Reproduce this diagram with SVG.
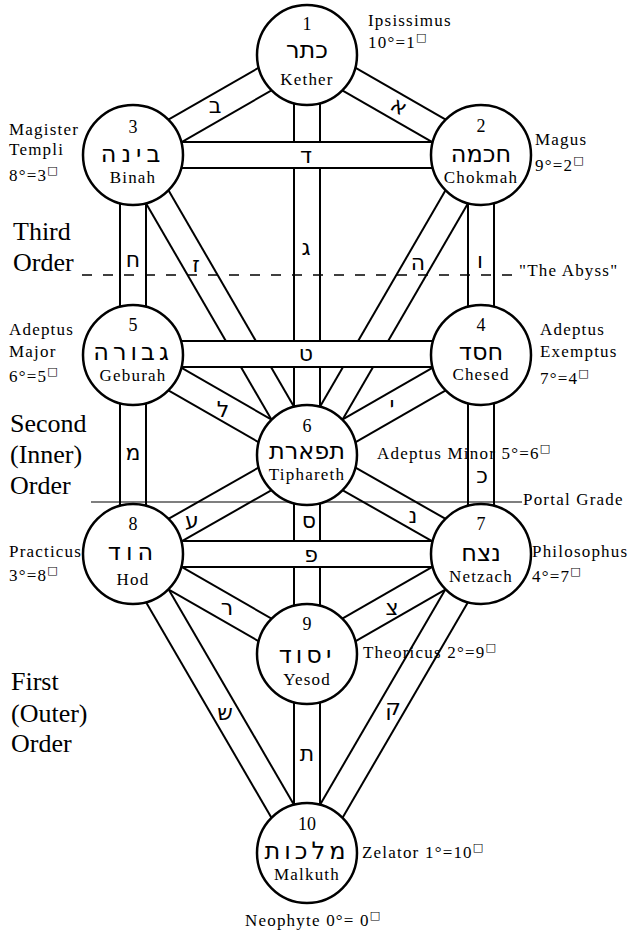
<svg xmlns="http://www.w3.org/2000/svg" width="630" height="933" viewBox="0 0 630 933">
<style>
text { font-family: "Liberation Serif", "Times New Roman", serif; fill: #000; }
.lbl { font-size: 17px; letter-spacing: 1.2px; }
.num { font-size: 18px; text-anchor: middle; }
.name { font-size: 17px; letter-spacing: 1.2px; text-anchor: middle; }
.heb { font-family: "DejaVu Sans", "Noto Sans", sans-serif; font-size: 24px; text-anchor: middle; }
.pl { font-family: "DejaVu Sans", "Noto Sans", sans-serif; font-size: 22px; text-anchor: middle; dominant-baseline: central; }
.ord { font-size: 26px; }
.sq { font-family: "DejaVu Sans", sans-serif; font-size: 11px; letter-spacing: 0; }
.node circle { fill: #fff; stroke: #000; stroke-width: 2.5; }
.bo { stroke: #000; stroke-width: 28; }
.bi { stroke: #fff; stroke-width: 24; }
.abyss { stroke: #000; stroke-width: 1.5; stroke-dasharray: 10 11; }
.portal { stroke: #000; stroke-width: 1.2; }
</style>
<rect width="630" height="933" fill="#fff"/>

<g id="connectors">
  <g id="p-aleph"><line class="bo" x1="307" y1="55" x2="481" y2="155"/><line class="bi" x1="307" y1="55" x2="481" y2="155"/><text class="pl" x="399" y="106" transform="rotate(30 399 106)">א</text></g>
  <g id="p-beth"><line class="bo" x1="307" y1="55" x2="133" y2="155"/><line class="bi" x1="307" y1="55" x2="133" y2="155"/><text class="pl" x="215" y="105">ב</text></g>
  <g id="p-he"><line class="bo" x1="481" y1="155" x2="307" y2="455"/><line class="bi" x1="481" y1="155" x2="307" y2="455"/><text class="pl" x="418" y="262">ה</text></g>
  <g id="p-zain"><line class="bo" x1="133" y1="155" x2="307" y2="455"/><line class="bi" x1="133" y1="155" x2="307" y2="455"/><text class="pl" x="196" y="264">ז</text></g>
  <g id="p-yod"><line class="bo" x1="481" y1="355" x2="307" y2="455"/><line class="bi" x1="481" y1="355" x2="307" y2="455"/><text class="pl" x="392" y="404">י</text></g>
  <g id="p-lamed"><line class="bo" x1="133" y1="355" x2="307" y2="455"/><line class="bi" x1="133" y1="355" x2="307" y2="455"/><text class="pl" x="223" y="409">ל</text></g>
  <g id="p-nun"><line class="bo" x1="307" y1="455" x2="481" y2="554"/><line class="bi" x1="307" y1="455" x2="481" y2="554"/><text class="pl" x="413" y="515">נ</text></g>
  <g id="p-ayin"><line class="bo" x1="307" y1="455" x2="133" y2="554"/><line class="bi" x1="307" y1="455" x2="133" y2="554"/><text class="pl" x="192" y="520">ע</text></g>
  <g id="p-tzaddi"><line class="bo" x1="481" y1="554" x2="307" y2="654"/><line class="bi" x1="481" y1="554" x2="307" y2="654"/><text class="pl" x="392" y="607">צ</text></g>
  <g id="p-resh"><line class="bo" x1="133" y1="554" x2="307" y2="654"/><line class="bi" x1="133" y1="554" x2="307" y2="654"/><text class="pl" x="227" y="607">ר</text></g>
  <g id="p-shin"><line class="bo" x1="133" y1="554" x2="307" y2="853"/><line class="bi" x1="133" y1="554" x2="307" y2="853"/><text class="pl" x="225" y="712">ש</text></g>
  <g id="p-qoph"><line class="bo" x1="481" y1="554" x2="307" y2="853"/><line class="bi" x1="481" y1="554" x2="307" y2="853"/><text class="pl" x="393" y="707">ק</text></g>
  <g id="p-gimel"><line class="bo" x1="307" y1="55" x2="307" y2="455"/><line class="bi" x1="307" y1="55" x2="307" y2="455"/><text class="pl" x="306" y="247">ג</text></g>
  <g id="p-vau"><line class="bo" x1="481" y1="155" x2="481" y2="355"/><line class="bi" x1="481" y1="155" x2="481" y2="355"/><text class="pl" x="480" y="260">ו</text></g>
  <g id="p-cheth"><line class="bo" x1="133" y1="155" x2="133" y2="355"/><line class="bi" x1="133" y1="155" x2="133" y2="355"/><text class="pl" x="133" y="259">ח</text></g>
  <g id="p-kaph"><line class="bo" x1="481" y1="355" x2="481" y2="554"/><line class="bi" x1="481" y1="355" x2="481" y2="554"/><text class="pl" x="482" y="475">כ</text></g>
  <g id="p-mem"><line class="bo" x1="133" y1="355" x2="133" y2="554"/><line class="bi" x1="133" y1="355" x2="133" y2="554"/><text class="pl" x="133" y="452">מ</text></g>
  <g id="p-samekh"><line class="bo" x1="307" y1="455" x2="307" y2="654"/><line class="bi" x1="307" y1="455" x2="307" y2="654"/><text class="pl" x="309" y="520">ס</text></g>
  <g id="p-tau"><line class="bo" x1="307" y1="654" x2="307" y2="853"/><line class="bi" x1="307" y1="654" x2="307" y2="853"/><text class="pl" x="307" y="753">ת</text></g>
  <g id="p-daleth"><line class="bo" x1="133" y1="155" x2="481" y2="155"/><line class="bi" x1="133" y1="155" x2="481" y2="155"/><text class="pl" x="306" y="155">ד</text></g>
  <g id="p-teth"><line class="bo" x1="133" y1="354" x2="481" y2="354"/><line class="bi" x1="133" y1="354" x2="481" y2="354"/><text class="pl" x="306" y="353">ט</text></g>
  <g id="p-pe"><line class="bo" x1="133" y1="554" x2="481" y2="554"/><line class="bi" x1="133" y1="554" x2="481" y2="554"/><text class="pl" x="311" y="554">פ</text></g>
</g>

<g id="grade-lines">
  <line class="abyss" x1="82" y1="275" x2="520" y2="275"/>
  <line class="portal" x1="91" y1="502" x2="522" y2="502"/>
  <text class="lbl" x="519" y="276">"The Abyss"</text>
  <text class="lbl" x="523" y="505">Portal Grade</text>
</g>

<g id="kether" class="node">
  <circle cx="307" cy="55" r="50"/>
  <text class="num" x="307" y="30">1</text>
  <text class="heb" x="307" y="58">כתר</text>
  <text class="name" x="307" y="85">Kether</text>
  <text class="lbl" x="368" y="26">Ipsissimus</text>
  <text class="lbl" x="368" y="48">10°=1<tspan class="sq" dy="-7">□</tspan></text>
</g>
<g id="chokmah" class="node">
  <circle cx="481" cy="155" r="50"/>
  <text class="num" x="481" y="132">2</text>
  <text class="heb" x="481" y="162">חכמה</text>
  <text class="name" x="481" y="183">Chokmah</text>
  <text class="lbl" x="535" y="145">Magus</text>
  <text class="lbl" x="535" y="171">9°=2<tspan class="sq" dy="-7">□</tspan></text>
</g>
<g id="binah" class="node">
  <circle cx="133" cy="155" r="50"/>
  <text class="num" x="133" y="133">3</text>
  <text class="heb" x="133" y="162" style="letter-spacing:5px">בינה</text>
  <text class="name" x="133" y="183">Binah</text>
  <text class="lbl" x="9" y="135">Magister</text>
  <text class="lbl" x="9" y="155">Templi</text>
  <text class="lbl" x="9" y="181">8°=3<tspan class="sq" dy="-7">□</tspan></text>
</g>
<g id="chesed" class="node">
  <circle cx="481" cy="355" r="50"/>
  <text class="num" x="481" y="331">4</text>
  <text class="heb" x="481" y="360">חסד</text>
  <text class="name" x="481" y="380">Chesed</text>
  <text class="lbl" x="540" y="335">Adeptus</text>
  <text class="lbl" x="540" y="357">Exemptus</text>
  <text class="lbl" x="540" y="384">7°=4<tspan class="sq" dy="-7">□</tspan></text>
</g>
<g id="geburah" class="node">
  <circle cx="133" cy="355" r="50"/>
  <text class="num" x="133" y="331">5</text>
  <text class="heb" x="133" y="360" style="letter-spacing:4px">גבורה</text>
  <text class="name" x="133" y="381">Geburah</text>
  <text class="lbl" x="9" y="335">Adeptus</text>
  <text class="lbl" x="9" y="357">Major</text>
  <text class="lbl" x="9" y="382">6°=5<tspan class="sq" dy="-7">□</tspan></text>
</g>
<g id="tiphareth" class="node">
  <circle cx="307" cy="455" r="50"/>
  <text class="num" x="307" y="432">6</text>
  <text class="heb" x="307" y="459">תפארת</text>
  <text class="name" x="307" y="480">Tiphareth</text>
  <text class="lbl" x="377" y="459">Adeptus Minor 5°=6<tspan class="sq" dy="-7">□</tspan></text>
</g>
<g id="netzach" class="node">
  <circle cx="481" cy="554" r="50"/>
  <text class="num" x="481" y="530">7</text>
  <text class="heb" x="481" y="561">נצח</text>
  <text class="name" x="481" y="582">Netzach</text>
  <text class="lbl" x="532" y="557">Philosophus</text>
  <text class="lbl" x="532" y="582">4°=7<tspan class="sq" dy="-7">□</tspan></text>
</g>
<g id="hod" class="node">
  <circle cx="133" cy="554" r="50"/>
  <text class="num" x="133" y="530">8</text>
  <text class="heb" x="133" y="560" style="letter-spacing:5px">הוד</text>
  <text class="name" x="133" y="585">Hod</text>
  <text class="lbl" x="9" y="557">Practicus</text>
  <text class="lbl" x="9" y="581">3°=8<tspan class="sq" dy="-7">□</tspan></text>
</g>
<g id="yesod" class="node">
  <circle cx="307" cy="654" r="50"/>
  <text class="num" x="307" y="630">9</text>
  <text class="heb" x="307" y="663" style="letter-spacing:4px">יסוד</text>
  <text class="name" x="307" y="685">Yesod</text>
  <text class="lbl" x="363" y="658">Theoricus 2°=9<tspan class="sq" dy="-7">□</tspan></text>
</g>
<g id="malkuth" class="node">
  <circle cx="307" cy="853" r="50"/>
  <text class="num" x="307" y="830">10</text>
  <text class="heb" x="307" y="859" style="letter-spacing:4px">מלכות</text>
  <text class="name" x="307" y="880">Malkuth</text>
  <text class="lbl" x="362" y="858">Zelator 1°=10<tspan class="sq" dy="-7">□</tspan></text>
  <text class="lbl" x="245" y="926">Neophyte 0°= 0<tspan class="sq" dy="-7">□</tspan></text>
</g>

<g id="orders">
  <text class="ord" x="13" y="240">Third</text>
  <text class="ord" x="13" y="271">Order</text>
  <text class="ord" x="10" y="432">Second</text>
  <text class="ord" x="10" y="463">(Inner)</text>
  <text class="ord" x="10" y="494">Order</text>
  <text class="ord" x="11" y="690">First</text>
  <text class="ord" x="11" y="722">(Outer)</text>
  <text class="ord" x="11" y="752">Order</text>
</g>
</svg>
